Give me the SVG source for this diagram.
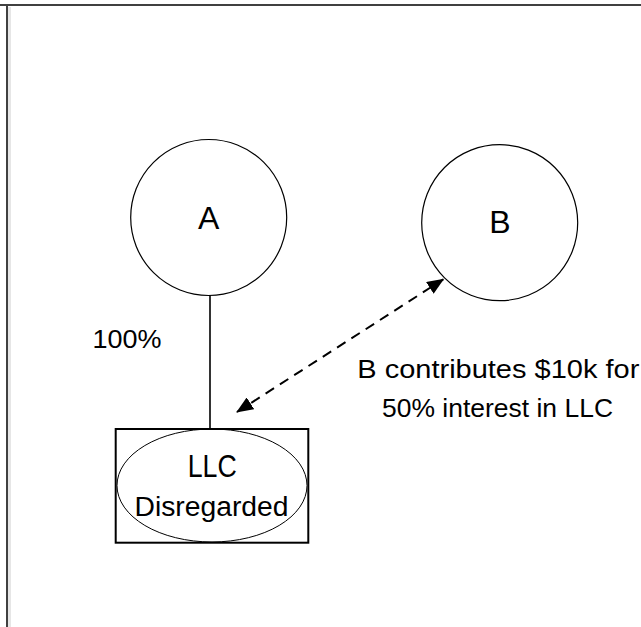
<svg xmlns="http://www.w3.org/2000/svg" width="641" height="627" viewBox="0 0 641 627">
  <style>
    .t { font-family: "Liberation Sans", Arial, sans-serif; fill: #000; }
    .node { fill: #fff; stroke: #000; stroke-width: 1.2; }
    .conn { stroke: #000; fill: none; }
  </style>
  <defs>
    <marker id="ah" markerUnits="userSpaceOnUse" markerWidth="17" markerHeight="14" refX="16" refY="7" orient="auto-start-reverse">
      <path d="M0,0 L17,7 L0,14 z" fill="#000"/>
    </marker>
  </defs>
  <rect x="0" y="0" width="641" height="627" fill="#fff"/>
  <g id="frame">
    <line x1="0" y1="5" x2="641" y2="5" stroke="#404040" stroke-width="2"/>
    <line x1="7" y1="5" x2="7" y2="627" stroke="#404040" stroke-width="2"/>
    <rect x="8" y="7" width="3" height="620" fill="#e6e6e6"/>
  </g>
  <g id="connectors">
    <line class="conn" x1="210" y1="295" x2="210" y2="429" stroke-width="1.6"/>
    <line class="conn" x1="237" y1="412" x2="443.3" y2="279.3" stroke-width="2" stroke-dasharray="10 7" marker-start="url(#ah)" marker-end="url(#ah)"/>
  </g>
  <g id="node-A">
    <circle class="node" cx="208.7" cy="217.5" r="78"/>
    <text class="t" x="208.7" y="228.5" font-size="32" text-anchor="middle">A</text>
  </g>
  <g id="node-B">
    <circle class="node" cx="499.7" cy="222.7" r="78"/>
    <text class="t" x="500" y="233.3" font-size="32" text-anchor="middle">B</text>
  </g>
  <g id="node-LLC">
    <rect x="115.7" y="429" width="192.6" height="113.7" fill="#fff" stroke="#000" stroke-width="2"/>
    <ellipse cx="212" cy="485.5" rx="95" ry="56.5" fill="none" stroke="#000" stroke-width="1"/>
    <text class="t" x="187.7" y="476.7" font-size="32" textLength="49" lengthAdjust="spacingAndGlyphs">LLC</text>
    <text class="t" x="134.5" y="516" font-size="27" textLength="154" lengthAdjust="spacingAndGlyphs">Disregarded</text>
  </g>
  <g id="labels">
    <text class="t" x="92.5" y="347.7" font-size="25.5" textLength="69" lengthAdjust="spacingAndGlyphs">100%</text>
    <text class="t" x="357.3" y="378.3" font-size="26" textLength="282" lengthAdjust="spacingAndGlyphs">B contributes $10k for</text>
    <text class="t" x="382" y="416.6" font-size="26" textLength="231" lengthAdjust="spacingAndGlyphs">50% interest in LLC</text>
  </g>
</svg>
